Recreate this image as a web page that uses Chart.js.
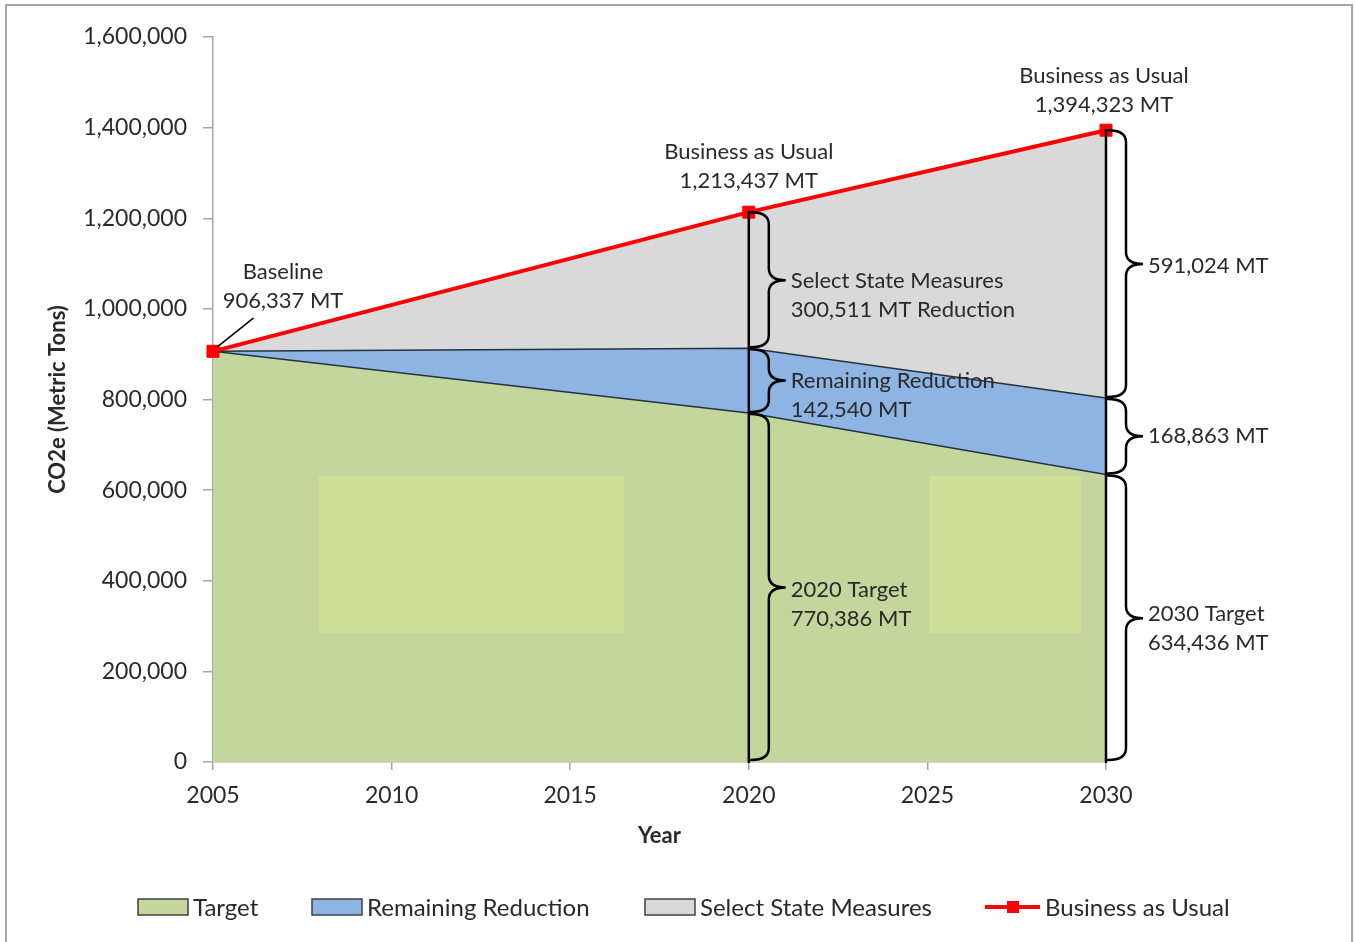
<!DOCTYPE html>
<html>
<head>
<meta charset="utf-8">
<script src="https://cdn.jsdelivr.net/npm/chart.js@4.4.0/dist/chart.umd.min.js"></script>
<style>
  body { margin: 0; background: #fff; }
  canvas { display: block; }
</style>
</head>
<body>
<canvas id="co2Chart" width="1355" height="942"></canvas>
<script>
// emissions by year, metric tons CO2e
const years = [2005, 2020, 2030];
const target = [906337, 770386, 634436];
const remainingReduction = [0, 142540, 168863];
const stateMeasures = [0, 300511, 591024];
const businessAsUsual = [906337, 1213437, 1394323];

const seriesNames = ['Target', 'Remaining Reduction', 'Select State Measures', 'Business as Usual'];
const xTicks = [2005, 2010, 2015, 2020, 2025, 2030];
const yMax = 1600000;
const yStep = 200000;

const textColor = '#2a2a2a';
const axisColor = '#a6a6a6';
const fontFamily = 'Lato, "Open Sans", sans-serif';

const fmt = v => v.toLocaleString('en-US');
const pts = arr => years.map((x, i) => ({ x: x, y: arr[i] }));

function drawBrace(ctx, x, yTop, yBot, yMid) {
  const x0 = x + 2, xb = x + 20, xt = x + 37;
  const r = Math.min(12, (yBot - yTop) / 4);
  ctx.beginPath();
  ctx.moveTo(x0, yTop);
  ctx.quadraticCurveTo(xb, yTop, xb, yTop + r);
  ctx.lineTo(xb, yMid - r);
  ctx.quadraticCurveTo(xb, yMid, xt, yMid);
  ctx.quadraticCurveTo(xb, yMid, xb, yMid + r);
  ctx.lineTo(xb, yBot - r);
  ctx.quadraticCurveTo(xb, yBot, x0, yBot);
  ctx.stroke();
  return xt + 5;
}

function drawLines(ctx, lines, x, y, align) {
  ctx.textAlign = align;
  lines.forEach((t, i) => ctx.fillText(t, x, y + i * 29));
}

const annotations = {
  id: 'annotations',
  afterDatasetsDraw(chart) {
    const ctx = chart.ctx;
    const xs = chart.scales.x, ys = chart.scales.y;
    ctx.save();

    // pale patches inside the target area
    ctx.fillStyle = 'rgba(210, 226, 150, 0.75)';
    [[2007.95, 2016.5], [2025.05, 2029.3]].forEach(([a, b]) => {
      const top = ys.getPixelForValue(631000), bot = ys.getPixelForValue(284000);
      ctx.fillRect(xs.getPixelForValue(a), top, xs.getPixelForValue(b) - xs.getPixelForValue(a), bot - top);
    });

    ctx.font = '22px ' + fontFamily;
    ctx.fillStyle = textColor;
    ctx.textBaseline = 'middle';
    ctx.strokeStyle = '#000';
    ctx.lineCap = 'round';

    // baseline callout
    const bx = xs.getPixelForValue(years[0]);
    const by = ys.getPixelForValue(businessAsUsual[0]);
    ctx.lineWidth = 1.5;
    ctx.beginPath();
    ctx.moveTo(bx + 5, by - 5);
    ctx.lineTo(bx + 40, by - 33);
    ctx.stroke();
    drawLines(ctx, ['Baseline', fmt(businessAsUsual[0]) + ' MT'], bx + 70, by - 79, 'center');

    // brackets at 2020 and 2030
    [1, 2].forEach(i => {
      const x = xs.getPixelForValue(years[i]);
      const yZero = ys.getPixelForValue(0);
      const yT = ys.getPixelForValue(target[i]);
      const yR = ys.getPixelForValue(target[i] + remainingReduction[i]);
      const yB = ys.getPixelForValue(businessAsUsual[i]);

      ctx.lineWidth = 2.5;
      ctx.beginPath();
      ctx.moveTo(x, yZero);
      ctx.lineTo(x, yB);
      ctx.stroke();

      const mT = (yT + yZero) / 2, mR = (yR + yT) / 2, mS = (yB + yR) / 2;
      const tx = drawBrace(ctx, x, yT + 1, yZero - 2, mT);
      drawBrace(ctx, x, yR + 1, yT - 1, mR);
      drawBrace(ctx, x, yB, yR - 1, mS);

      if (i === 1) {
        drawLines(ctx, [years[i] + ' Target', fmt(target[i]) + ' MT'], tx, mT + 2, 'left');
        drawLines(ctx, ['Remaining Reduction', fmt(remainingReduction[i]) + ' MT'], tx, mR, 'left');
        drawLines(ctx, ['Select State Measures', fmt(stateMeasures[i]) + ' MT Reduction'], tx, mS + 1, 'left');
        drawLines(ctx, ['Business as Usual', fmt(businessAsUsual[i]) + ' MT'], x, yB - 60, 'center');
      } else {
        drawLines(ctx, [years[i] + ' Target', fmt(target[i]) + ' MT'], tx, mT - 4, 'left');
        drawLines(ctx, [fmt(remainingReduction[i]) + ' MT'], tx, mR, 'left');
        drawLines(ctx, [fmt(stateMeasures[i]) + ' MT'], tx, mS + 2, 'left');
        drawLines(ctx, ['Business as Usual', fmt(businessAsUsual[i]) + ' MT'], x - 2, yB - 54, 'center');
      }
    });
    ctx.restore();
  },
  afterDraw(chart) {
    const ctx = chart.ctx;
    ctx.save();

    // legend along the bottom
    const boxX = [138, 312, 645, 985];
    const ly = 907;
    ctx.font = '24px ' + fontFamily;
    ctx.fillStyle = textColor;
    ctx.textBaseline = 'middle';
    ctx.textAlign = 'left';
    chart.data.datasets.forEach((ds, i) => {
      const x = boxX[i];
      if (ds.fill) {
        ctx.fillStyle = ds.backgroundColor;
        ctx.fillRect(x, ly - 8, 50, 16);
        ctx.strokeStyle = '#404040';
        ctx.lineWidth = 1.5;
        ctx.strokeRect(x, ly - 8, 50, 16);
      } else {
        ctx.strokeStyle = ds.borderColor;
        ctx.lineWidth = 4;
        ctx.beginPath();
        ctx.moveTo(x, ly);
        ctx.lineTo(x + 55, ly);
        ctx.stroke();
        ctx.fillStyle = ds.borderColor;
        ctx.fillRect(x + 22, ly - 6, 12, 12);
      }
      ctx.fillStyle = textColor;
      ctx.fillText(ds.label, x + (ds.fill ? 55 : 60), ly + 1);
    });

    // outer frame
    ctx.strokeStyle = axisColor;
    ctx.lineWidth = 2;
    ctx.strokeRect(6, 5, 1346, 960);
    ctx.restore();
  }
};

new Chart(document.getElementById('co2Chart'), {
  type: 'line',
  data: {
    datasets: [
      {
        label: seriesNames[0],
        data: pts(target),
        backgroundColor: '#c3d69b',
        borderColor: '#24313f',
        borderWidth: 1.5,
        fill: 'origin',
        pointRadius: 0,
        stack: 'areas'
      },
      {
        label: seriesNames[1],
        data: pts(remainingReduction),
        backgroundColor: '#8eb4e3',
        borderColor: '#24313f',
        borderWidth: 1.5,
        fill: '-1',
        pointRadius: 0,
        stack: 'areas'
      },
      {
        label: seriesNames[2],
        data: pts(stateMeasures),
        backgroundColor: '#d9d9d9',
        borderColor: '#d9d9d9',
        borderWidth: 0,
        fill: '-1',
        pointRadius: 0,
        stack: 'areas'
      },
      {
        label: seriesNames[3],
        data: pts(businessAsUsual),
        borderColor: '#ff0000',
        backgroundColor: '#ff0000',
        borderWidth: 4,
        fill: false,
        pointStyle: 'rect',
        pointRadius: 8.5,
        pointBorderWidth: 1,
        stack: 'bau',
        order: -1,
        clip: false
      }
    ]
  },
  options: {
    responsive: false,
    animation: false,
    devicePixelRatio: 1,
    layout: { padding: { top: 37, right: 249, left: 0, bottom: 0 } },
    plugins: {
      legend: { display: false },
      tooltip: { enabled: false }
    },
    scales: {
      x: {
        type: 'linear',
        min: xTicks[0],
        max: xTicks[xTicks.length - 1],
        z: 1,
        afterBuildTicks: s => { s.ticks = xTicks.map(v => ({ value: v })); },
        afterFit: s => { s.height = 180; },
        ticks: {
          padding: 12,
          color: textColor,
          font: { size: 23, family: fontFamily },
          callback: v => String(v)
        },
        grid: { drawOnChartArea: false, drawTicks: true, tickLength: 8, color: axisColor, lineWidth: 1.5 },
        border: { display: true, color: axisColor, width: 1.5 },
        title: {
          display: true,
          text: 'Year',
          color: textColor,
          font: { size: 22, weight: 'bold', family: fontFamily },
          padding: { top: 0, bottom: 93 }
        }
      },
      y: {
        stacked: true,
        min: 0,
        max: yMax,
        z: 1,
        afterFit: s => { s.width = 213; },
        ticks: {
          stepSize: yStep,
          padding: 16,
          color: textColor,
          font: { size: 23, family: fontFamily }
        },
        grid: { drawOnChartArea: false, drawTicks: true, tickLength: 10, color: axisColor, lineWidth: 1.5 },
        border: { display: true, color: axisColor, width: 1.5 },
        title: {
          display: true,
          text: 'CO2e (Metric Tons)',
          color: textColor,
          font: { size: 22, weight: 'bold', family: fontFamily },
          padding: { top: 45, bottom: 0 }
        }
      }
    }
  },
  plugins: [annotations]
});
</script>
</body>
</html>
